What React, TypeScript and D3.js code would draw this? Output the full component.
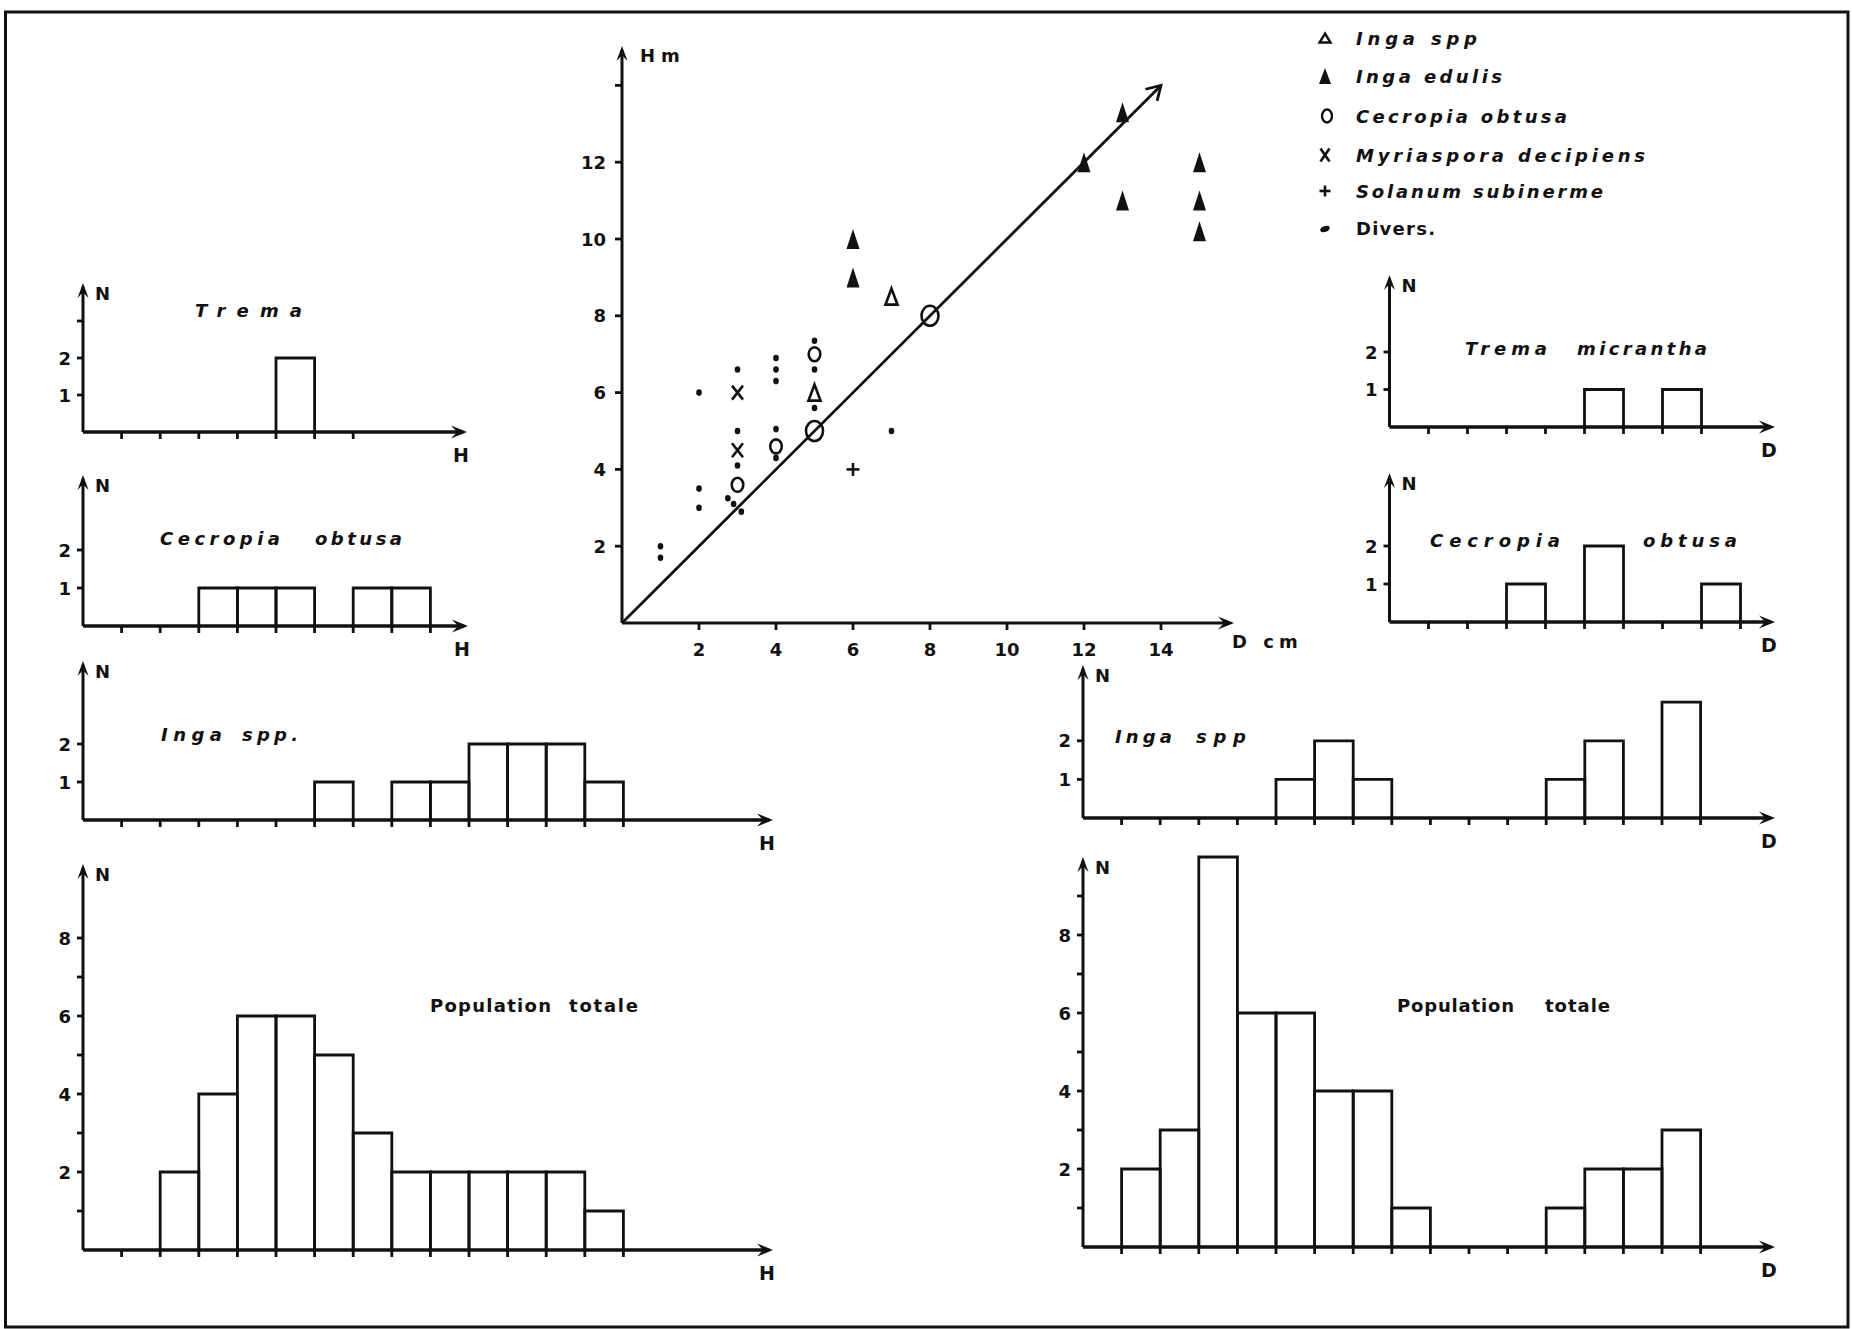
import React from 'react';
import * as d3 from 'd3';

// ---------- scatter: height (m) against diameter (cm) ----------
type Pt = [number, number];

const scatterTickValues = [2, 4, 6, 8, 10, 12, 14];
const scatterXTickLabels = ['2', '4', '6', '8', '10', '12', '14'];
const scatterYTickLabels = ['2', '4', '6', '8', '10', '12', ''];
const trendEnd = 14;

const ingaSppPoints: Pt[] = [[7, 8.5], [5, 6]];
const ingaEdulisPoints: Pt[] = [
  [6, 10], [6, 9], [12, 12], [13, 13.3], [13, 11], [15, 12], [15, 11], [15, 10.2],
];
const cecropiaPoints: Pt[] = [[5, 5], [8, 8], [5, 7], [4, 4.6], [3, 3.6]];
const myriasporaPoints: Pt[] = [[3, 6], [3, 4.5]];
const solanumPoints: Pt[] = [[6, 4]];
const diversPoints: Pt[] = [
  [1, 2], [1, 1.7], [2, 6], [2, 3.5], [2, 3], [3, 6.6], [3, 5], [3, 4.1],
  [2.75, 3.25], [2.9, 3.1], [3.1, 2.9], [4, 6.9], [4, 6.6], [4, 6.3], [4, 5.05],
  [4, 4.3], [5, 7.35], [5, 6.6], [5, 5.6], [7, 5],
];

const legendLabels = [
  'Inga spp', 'Inga edulis', 'Cecropia obtusa', 'Myriaspora decipiens', 'Solanum subinerme', 'Divers.',
];

// ---------- histograms: number of stems per class ----------
const tremaH = [0, 0, 0, 0, 0, 2, 0];
const cecropiaH = [0, 0, 0, 1, 1, 1, 0, 1, 1];
const ingaH = [0, 0, 0, 0, 0, 0, 1, 0, 1, 1, 2, 2, 2, 1];
const totalH = [0, 0, 2, 4, 6, 6, 5, 3, 2, 2, 2, 2, 2, 1];

const tremaD = [0, 0, 0, 0, 0, 1, 0, 1];
const cecropiaD = [0, 0, 0, 1, 0, 2, 0, 0, 1];
const ingaD = [0, 0, 0, 0, 0, 1, 2, 1, 0, 0, 0, 0, 1, 2, 0, 3];
const totalD = [0, 2, 3, 10, 6, 6, 4, 4, 1, 0, 0, 0, 1, 2, 2, 3];

const smallTicks = [1, 2];
const smallTicksWithThree = [1, 2, 3];
const smallLabels = [1, 2];
const bigTicksLeft = [1, 2, 3, 4, 5, 6, 7, 8];
const bigTicksRight = [1, 2, 3, 4, 5, 6, 7, 8, 9];
const bigLabels = [2, 4, 6, 8];

// ---------- drawing ----------
const INK = '#111';
const FONT = '"DejaVu Sans", "Liberation Sans", sans-serif';
const WEIGHT = 'bold';
const W = 1852;
const H = 1329;

function arrowPath(x: number, y: number, angle: number, len = 16, half = 6.5) {
  const ux = Math.cos(angle), uy = Math.sin(angle);
  const nx = -uy, ny = ux;
  const bx = x - len * ux, by = y - len * uy;
  const mx = x - len * 0.62 * ux, my = y - len * 0.62 * uy;
  return `M${x},${y} L${bx + half * nx},${by + half * ny} L${mx},${my} L${bx - half * nx},${by - half * ny} Z`;
}

type TitlePart = { text: string; x: number; w: number };
type Panel = {
  counts: number[];
  ax: number; bw: number; base: number; unit: number; top: number; end: number;
  yTicks: number[]; yLabels: number[]; axis: string;
  titles: TitlePart[]; titleY: number; italic: boolean;
};

const panels: Panel[] = [
  { counts: tremaH, ax: 83, bw: 38.6, base: 432, unit: 37, top: 283, end: 467,
    yTicks: smallTicksWithThree, yLabels: smallLabels, axis: 'H',
    titles: [{ text: 'Trema', x: 195, w: 107 }], titleY: 317, italic: true },
  { counts: cecropiaH, ax: 83, bw: 38.6, base: 626, unit: 38, top: 475, end: 468,
    yTicks: smallTicks, yLabels: smallLabels, axis: 'H',
    titles: [{ text: 'Cecropia', x: 160, w: 120 }, { text: 'obtusa', x: 315, w: 87 }], titleY: 545, italic: true },
  { counts: ingaH, ax: 83, bw: 38.6, base: 820, unit: 38, top: 661, end: 773,
    yTicks: smallTicks, yLabels: smallLabels, axis: 'H',
    titles: [{ text: 'Inga', x: 161, w: 61 }, { text: 'spp.', x: 242, w: 56 }], titleY: 741, italic: true },
  { counts: totalH, ax: 83, bw: 38.6, base: 1250, unit: 39, top: 864, end: 773,
    yTicks: bigTicksLeft, yLabels: bigLabels, axis: 'H',
    titles: [{ text: 'Population', x: 430, w: 121 }, { text: 'totale', x: 569, w: 69 }], titleY: 1012, italic: false },
  { counts: tremaD, ax: 1389.5, bw: 39, base: 427, unit: 37.5, top: 275, end: 1775,
    yTicks: smallTicks, yLabels: smallLabels, axis: 'D',
    titles: [{ text: 'Trema', x: 1465, w: 82 }, { text: 'micrantha', x: 1577, w: 130 }], titleY: 355, italic: true },
  { counts: cecropiaD, ax: 1389.5, bw: 39, base: 622, unit: 38, top: 473, end: 1775,
    yTicks: smallTicks, yLabels: smallLabels, axis: 'D',
    titles: [{ text: 'Cecropia', x: 1430, w: 130 }, { text: 'obtusa', x: 1643, w: 94 }], titleY: 547, italic: true },
  { counts: ingaD, ax: 1083, bw: 38.6, base: 818, unit: 38.6, top: 665, end: 1775,
    yTicks: smallTicks, yLabels: smallLabels, axis: 'D',
    titles: [{ text: 'Inga', x: 1115, w: 57 }, { text: 'spp', x: 1196, w: 50 }], titleY: 743, italic: true },
  { counts: totalD, ax: 1083, bw: 38.6, base: 1247, unit: 39, top: 857, end: 1775,
    yTicks: bigTicksRight, yLabels: bigLabels, axis: 'D',
    titles: [{ text: 'Population', x: 1397, w: 117 }, { text: 'totale', x: 1545, w: 65 }], titleY: 1012, italic: false },
];

function Histogram({ p }: { p: Panel }) {
  const n = p.counts.length;
  const x = d3.scaleLinear().domain([0, n]).range([p.ax, p.ax + n * p.bw]);
  const y = d3.scaleLinear().domain([0, 1]).range([p.base, p.base - p.unit]);
  const ticks = d3.range(1, n + 1);
  return (
    <g>
      {/* bars, open at the base */}
      {p.counts.map((c, i) =>
        c > 0 ? (
          <path key={i}
            d={`M${x(i)},${y(0)} V${y(c)} H${x(i + 1)} V${y(0)}`}
            fill="none" stroke={INK} strokeWidth={2.8} strokeLinejoin="miter" />
        ) : null)}
      {/* axes */}
      <line x1={p.ax} y1={p.base} x2={p.end - 4} y2={p.base} stroke={INK} strokeWidth={3.6} />
      <path d={arrowPath(p.end, p.base, 0)} fill={INK} />
      <line x1={p.ax} y1={p.base} x2={p.ax} y2={p.top + 4} stroke={INK} strokeWidth={3} />
      <path d={arrowPath(p.ax, p.top, -Math.PI / 2, 15, 5.5)} fill={INK} />
      {ticks.map(t => (
        <line key={t} x1={x(t)} y1={p.base} x2={x(t)} y2={p.base + 7} stroke={INK} strokeWidth={2.8} />
      ))}
      {p.yTicks.map(t => (
        <line key={t} x1={p.ax - 6} y1={y(t)} x2={p.ax} y2={y(t)} stroke={INK} strokeWidth={2.8} />
      ))}
      {p.yLabels.map(t => (
        <text key={t} x={p.ax - 12} y={y(t) + 6.5} fontSize={18} fontWeight={WEIGHT} textAnchor="end" fill={INK}>{t}</text>
      ))}
      <text x={p.ax + 12} y={p.top + 17} fontSize={18} fontWeight={WEIGHT} fill={INK}>N</text>
      <text x={p.end - 6} y={p.base + 30} fontSize={19} fontWeight={WEIGHT} textAnchor="middle" fill={INK}>{p.axis}</text>
      {p.titles.map(t => (
        <text key={t.text} x={t.x} y={p.titleY} fontSize={18} fontWeight={WEIGHT} fill={INK}
          fontStyle={p.italic ? 'italic' : 'normal'}
          textLength={t.w} lengthAdjust="spacing">{t.text}</text>
      ))}
    </g>
  );
}

function triPath(cx: number, cy: number, w: number, h: number) {
  return `M${cx},${cy - h / 2} L${cx + w / 2},${cy + h / 2} L${cx - w / 2},${cy + h / 2} Z`;
}

function Cross({ cx, cy, w, h }: { cx: number; cy: number; w: number; h: number }) {
  return (
    <g stroke={INK} strokeWidth={2.6}>
      <line x1={cx - w / 2} y1={cy - h / 2} x2={cx + w / 2} y2={cy + h / 2} />
      <line x1={cx + w / 2} y1={cy - h / 2} x2={cx - w / 2} y2={cy + h / 2} />
    </g>
  );
}

function Plus({ cx, cy, r }: { cx: number; cy: number; r: number }) {
  return (
    <g stroke={INK} strokeWidth={2.6}>
      <line x1={cx - r} y1={cy} x2={cx + r} y2={cy} />
      <line x1={cx} y1={cy - r} x2={cx} y2={cy + r} />
    </g>
  );
}

function Scatter() {
  const x = d3.scaleLinear().domain([0, 14]).range([622, 1161]);
  const y = d3.scaleLinear().domain([0, 14]).range([623, 85.4]);
  const x0 = x(0), y0 = y(0);
  const xEnd = 1234, yTop = 46;
  const tx = x(trendEnd), ty = y(trendEnd);
  const trendAngle = Math.atan2(ty - y0, tx - x0);
  return (
    <g>
      <line x1={x0} y1={y0} x2={xEnd - 4} y2={y0} stroke={INK} strokeWidth={3} />
      <path d={arrowPath(xEnd, y0, 0)} fill={INK} />
      <line x1={x0} y1={y0} x2={x0} y2={yTop + 4} stroke={INK} strokeWidth={3} />
      <path d={arrowPath(x0, yTop, -Math.PI / 2, 15, 5.5)} fill={INK} />
      {scatterTickValues.map((v, i) => (
        <g key={v}>
          <line x1={x(v)} y1={y0} x2={x(v)} y2={y0 + 7} stroke={INK} strokeWidth={2.8} />
          <text x={x(v)} y={y0 + 33} fontSize={18} fontWeight={WEIGHT} textAnchor="middle" fill={INK}>{scatterXTickLabels[i]}</text>
          <line x1={x0 - 7} y1={y(v)} x2={x0} y2={y(v)} stroke={INK} strokeWidth={2.8} />
          <text x={x0 - 16} y={y(v) + 6.5} fontSize={18} fontWeight={WEIGHT} textAnchor="end" fill={INK}>{scatterYTickLabels[i]}</text>
        </g>
      ))}
      <text x={640} y={62} fontSize={18} fontWeight={WEIGHT} fill={INK} letterSpacing={6}>Hm</text>
      <text x={1232} y={648} fontSize={18} fontWeight={WEIGHT} fill={INK} letterSpacing={5}>D cm</text>

      {/* 1:1 reference line */}
      <line x1={x0} y1={y0} x2={tx} y2={ty} stroke={INK} strokeWidth={2.8} />
      <g stroke={INK} strokeWidth={2.8} fill="none">
        <path d={`M${tx + 16 * Math.cos(trendAngle + 2.6)},${ty + 16 * Math.sin(trendAngle + 2.6)} L${tx},${ty} L${tx + 16 * Math.cos(trendAngle - 2.6)},${ty + 16 * Math.sin(trendAngle - 2.6)}`} />
      </g>

      {diversPoints.map((d, i) => (
        <ellipse key={`d${i}`} cx={x(d[0])} cy={y(d[1])} rx={2.8} ry={3.3} fill={INK} />
      ))}
      {ingaEdulisPoints.map((d, i) => (
        <path key={`e${i}`} d={triPath(x(d[0]), y(d[1]), 13, 20)} fill={INK} />
      ))}
      {ingaSppPoints.map((d, i) => (
        <path key={`s${i}`} d={triPath(x(d[0]), y(d[1]), 12, 16)} fill="none" stroke={INK} strokeWidth={2.7} />
      ))}
      {cecropiaPoints.map((d, i) => {
        const onLine = d[0] === d[1];
        return (
          <ellipse key={`c${i}`} cx={x(d[0])} cy={y(d[1])} rx={onLine ? 8.5 : 5.8} ry={onLine ? 10 : 7}
            fill="none" stroke={INK} strokeWidth={2.6} />
        );
      })}
      {myriasporaPoints.map((d, i) => (
        <Cross key={`m${i}`} cx={x(d[0])} cy={y(d[1])} w={11} h={14} />
      ))}
      {solanumPoints.map((d, i) => (
        <Plus key={`p${i}`} cx={x(d[0])} cy={y(d[1])} r={6.5} />
      ))}
    </g>
  );
}

const legendRowY = [45, 83, 123, 162, 198, 235];
const legendEnds = [1477, 1502, 1567, 1645, 1603, 1435];

function Legend() {
  const mx = 1325, tx = 1356;
  const markers = [
    <path key="a" d={triPath(mx, legendRowY[0] - 7, 11, 9)} fill="none" stroke={INK} strokeWidth={2.4} />,
    <path key="b" d={triPath(mx, legendRowY[1] - 7, 12, 16)} fill={INK} />,
    <ellipse key="c" cx={mx + 2} cy={legendRowY[2] - 7} rx={5} ry={6.5} fill="none" stroke={INK} strokeWidth={2.4} />,
    <Cross key="d" cx={mx} cy={legendRowY[3] - 7} w={9} h={13} />,
    <Plus key="e" cx={mx} cy={legendRowY[4] - 7} r={5.5} />,
    <ellipse key="f" cx={mx} cy={legendRowY[5] - 6} rx={5} ry={3} fill={INK} transform={`rotate(-20 ${mx} ${legendRowY[5] - 6})`} />,
  ];
  return (
    <g>
      {markers}
      {legendLabels.map((l, i) => (
        <text key={l} x={tx} y={legendRowY[i]} fontSize={18} fontWeight={WEIGHT} fill={INK}
          fontStyle={i < 5 ? 'italic' : 'normal'}
          textLength={legendEnds[i] - tx} lengthAdjust="spacing">{l}</text>
      ))}
    </g>
  );
}

export default function App() {
  return (
    <svg width={W} height={H} viewBox={`0 0 ${W} ${H}`} fontFamily={FONT}
      style={{ position: 'absolute', left: 0, top: 0, background: '#fff', display: 'block' }}>
      <rect x={0} y={0} width={W} height={H} fill="#fff" />
      <rect x={5.5} y={12} width={1842.5} height={1315} fill="none" stroke={INK} strokeWidth={3} />
      <Scatter />
      <Legend />
      {panels.map((p, i) => <Histogram key={i} p={p} />)}
    </svg>
  );
}
